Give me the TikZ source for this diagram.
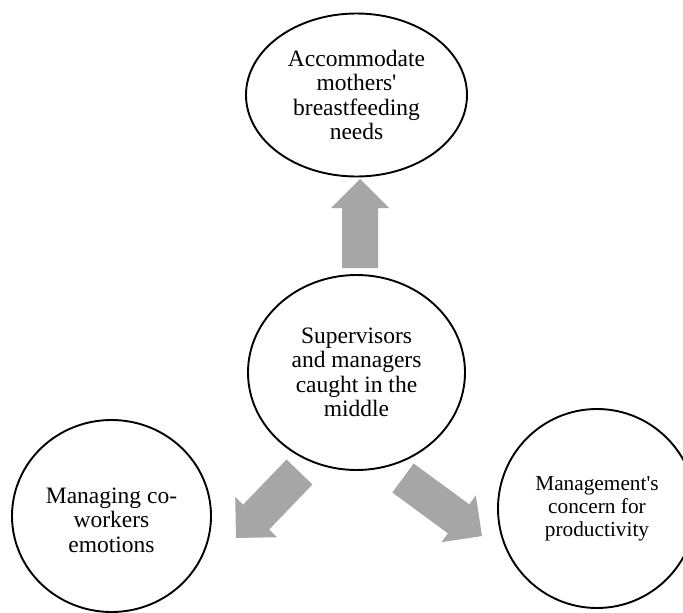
\documentclass[tikz,border=0pt]{standalone}
\usepackage{fontspec}
\setmainfont{Liberation Serif}[Ligatures=TeXOff]
\usetikzlibrary{shapes.geometric,calc}
\definecolor{arrgray}{HTML}{A6A6A6}
\newcommand\blockarr[3]{%
  \coordinate (#3hb) at ($(#2)!29pt!(#1)$);
  \fill[arrgray] ($(#1)!18pt!90:(#2)$) -- ($(#3hb)!18pt!90:(#2)$) -- ($(#3hb)!29pt!90:(#2)$) -- (#2)
    -- ($(#3hb)!29pt!-90:(#2)$) -- ($(#3hb)!18pt!-90:(#2)$) -- ($(#1)!18pt!-90:(#2)$) -- cycle;
}
\begin{document}
\begin{tikzpicture}[x=1pt,y=-1pt,
  bubble/.style={draw, line width=1.9pt, ellipse, inner sep=0pt, align=center,
    font=\fontsize{23.5}{24.5}\selectfont},
  bubbletext/.style={inner sep=0pt, align=center, font=\fontsize{23.5}{24.5}\selectfont}]
\clip (0,0) rectangle (683,613);
\fill[white] (0,0) rectangle (683,613);
\node[bubble, minimum width=221pt, minimum height=163pt] (top) at (356.5,95)
  {Accommodate\\mothers'\\breastfeeding\\needs};
\node[bubble, minimum width=217pt, minimum height=195pt] (mid) at (356.5,372.5)
  {Supervisors\\and managers\\caught in the\\middle};
\node[bubble, minimum width=199pt, minimum height=192pt] (left) at (111.5,516) {};
\node[bubbletext] (lefttext) at (111.5,520) {Managing co-\\workers\\emotions};
\node[bubble, minimum width=198pt, minimum height=199pt,
  font=\fontsize{21.3}{23}\selectfont] (right) at (597,508.5)
  {Management's\\concern for\\productivity};
\coordinate (upS) at (360,268);
\coordinate (upT) at (360,179);
\blockarr{upS}{upT}{up}
\coordinate (lS) at (299.5,472);
\coordinate (lT) at (236,538);
\blockarr{lS}{lT}{l}
\coordinate (rS) at (403,478);
\coordinate (rT) at (482,536);
\blockarr{rS}{rT}{r}
\end{tikzpicture}
\end{document}
